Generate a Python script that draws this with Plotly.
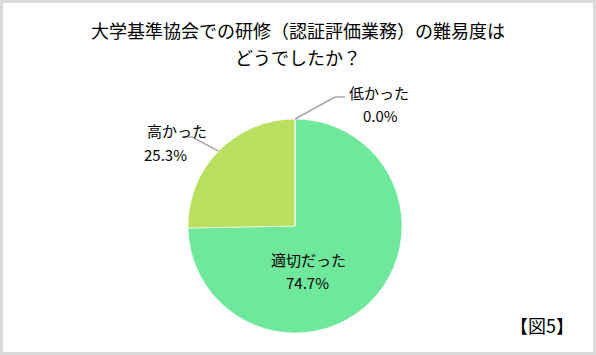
import math
import plotly.graph_objects as go

labels = ["適切だった", "高かった", "低かった"]
values = [74.7, 25.3, 0.0]
colors = ["#6FE89C", "#B8DF5E", "#9ACD32"]
title_lines = ["大学基準協会での研修（認証評価業務）の難易度は", "どうでしたか？"]
fig_note = "【図5】"

W, H = 596, 355
cx, cy, r = 295, 226, 107  # pie centre / radius in px

def px(x):
    return x / W

def py(y):
    return 1 - y / H

fig = go.Figure(go.Pie(
    labels=labels, values=values,
    marker=dict(colors=colors, line=dict(color="rgba(255,255,255,0.6)", width=1)),
    sort=False, direction="clockwise", rotation=0,
    textinfo="none", hoverinfo="label+percent", showlegend=False,
    domain=dict(x=[px(cx - r), px(cx + r)], y=[py(cy + r), py(cy - r)]),
))

font_family = "Noto Sans CJK JP, Noto Sans, sans-serif"

total = sum(values)
start = 90.0
mids = []
for v in values:
    span = 360 * v / total
    mids.append(start - span / 2)
    start -= span

def edge(angle):
    a = math.radians(angle)
    return cx + r * math.cos(a), cy - r * math.sin(a)

shapes = []
ex, ey = edge(mids[1])
shapes.append(dict(type="path", xref="paper", yref="paper",
                   path=f"M {px(ex)},{py(ey)} L {px(192)},{py(137)} L {px(182)},{py(137)}",
                   line=dict(color="#A6A6A6", width=1.5)))
ex, ey = edge(mids[2])
shapes.append(dict(type="path", xref="paper", yref="paper",
                   path=f"M {px(ex)},{py(ey)} L {px(335)},{py(97)} L {px(345)},{py(97)}",
                   line=dict(color="#A6A6A6", width=1.5)))
shapes.append(dict(type="rect", xref="paper", yref="paper",
                   x0=px(1.5), x1=px(W - 1.5), y0=py(H - 1.5), y1=py(1.5),
                   line=dict(color="#D9D9D9", width=3)))

def fmt(v):
    return f"{v:.1f}%"

def ann(text, x, y, size=15, **kw):
    d = dict(text=text, x=px(x), y=py(y), xref="paper", yref="paper",
             showarrow=False, font=dict(size=size, color="#000", family=font_family),
             yanchor="middle", borderpad=0)
    d.update(kw)
    return d

annotations = [
    ann(title_lines[0], 298, 30, size=18),
    ann(title_lines[1], 298, 57, size=18),
    ann(labels[0], 308, 259),
    ann(fmt(values[0]), 307, 282),
    ann(labels[1], 146, 131),
    ann(fmt(values[1]), 143, 154),
    ann(labels[2], 379, 92),
    ann(fmt(values[2]), 380, 115),
    ann(fig_note, 575, 325, size=18, xanchor="right"),
]

fig.update_layout(
    width=W, height=H, margin=dict(l=0, r=0, t=0, b=0),
    paper_bgcolor="white", plot_bgcolor="white",
    shapes=shapes, annotations=annotations,
)

fig.write_html("out.html", config={"displayModeBar": False},
               post_script="document.body.style.margin='0';document.body.style.overflow='hidden';")
